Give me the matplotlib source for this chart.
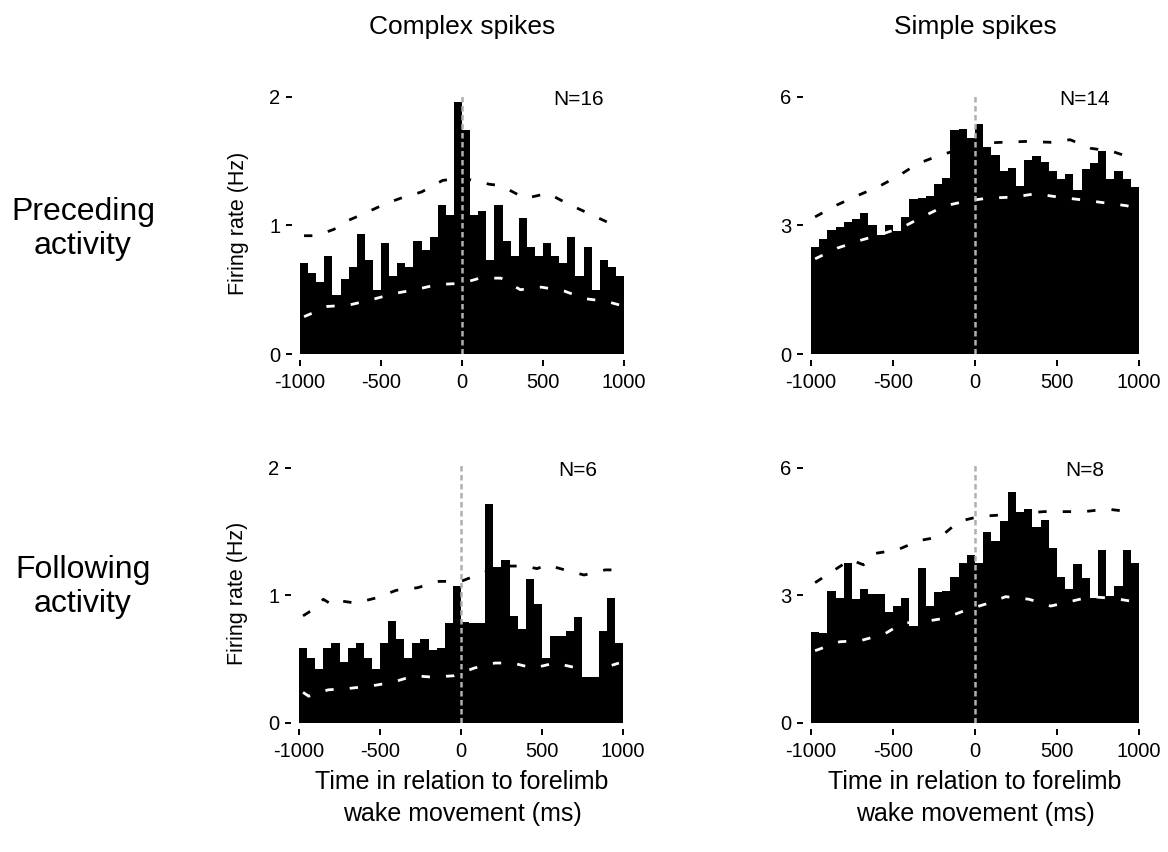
import numpy as np
import matplotlib
matplotlib.use("Agg")
from matplotlib import pyplot as plt

plt.rcParams['font.family'] = ['Liberation Sans', 'DejaVu Sans']
plt.rcParams['axes.unicode_minus'] = False

# bin edges: 40 bins of 50 ms from -1000 to 1000
bin_left = np.arange(-1000, 1000, 50)

# complex spikes, preceding activity (N=16)
cs_pre = [0.71, 0.63, 0.56, 0.76, 0.46, 0.58, 0.68, 0.93, 0.73, 0.50,
          0.86, 0.61, 0.71, 0.68, 0.88, 0.81, 0.91, 1.16, 1.08, 1.96,
          1.74, 1.08, 1.11, 0.73, 1.16, 0.88, 0.76, 1.06, 0.83, 0.76,
          0.86, 0.76, 0.71, 0.91, 0.61, 0.83, 0.50, 0.73, 0.68, 0.61]
cs_pre_hi_t = [-975, -900, -790, -700, -590, -470, -360, -250, -120, 0, 170, 240, 390, 530, 650, 770, 890, 975]
cs_pre_hi = [0.92, 0.92, 0.97, 1.04, 1.10, 1.17, 1.22, 1.26, 1.35, 1.37, 1.32, 1.31, 1.21, 1.25, 1.17, 1.10, 1.03, 0.98]
cs_pre_lo_t = [-975, -830, -700, -565, -420, -290, -150, 0, 110, 240, 360, 490, 630, 760, 890, 975]
cs_pre_lo = [0.29, 0.37, 0.38, 0.42, 0.47, 0.50, 0.54, 0.55, 0.59, 0.59, 0.50, 0.52, 0.49, 0.43, 0.41, 0.38]

# simple spikes, preceding activity (N=14)
ss_pre = [2.49, 2.69, 2.90, 2.96, 3.08, 3.15, 3.30, 3.00, 2.78, 3.00,
          2.86, 3.19, 3.61, 3.65, 3.68, 3.96, 4.10, 5.23, 5.25, 5.04,
          5.37, 4.84, 4.65, 4.28, 4.34, 3.93, 4.52, 4.63, 4.47, 4.26,
          4.08, 4.21, 3.83, 4.32, 4.46, 4.74, 4.08, 4.26, 4.08, 3.89]
ss_pre_hi_t = [-975, -840, -720, -585, -465, -350, -220, -90, 30, 170, 310, 460, 580, 705, 835, 975]
ss_pre_hi = [3.20, 3.48, 3.69, 3.91, 4.16, 4.44, 4.63, 4.78, 4.92, 4.94, 4.96, 4.94, 5.00, 4.80, 4.73, 4.55]
ss_pre_lo_t = [-975, -840, -700, -565, -435, -310, -180, -50, 85, 235, 370, 510, 645, 785, 925, 975]
ss_pre_lo = [2.22, 2.47, 2.65, 2.80, 2.97, 3.22, 3.46, 3.57, 3.64, 3.66, 3.74, 3.66, 3.60, 3.53, 3.46, 3.40]

# complex spikes, following activity (N=6)
cs_fol = [0.59, 0.51, 0.42, 0.59, 0.63, 0.48, 0.59, 0.63, 0.51, 0.42,
          0.63, 0.80, 0.66, 0.51, 0.63, 0.66, 0.57, 0.59, 0.78, 1.07,
          0.79, 0.78, 0.78, 1.72, 1.22, 1.28, 0.84, 0.74, 1.13, 0.93,
          0.51, 0.68, 0.68, 0.72, 0.83, 0.36, 0.36, 0.72, 0.98, 0.63]
cs_fol_hi_t = [-975, -900, -850, -800, -760, -650, -525, -400, -270, -135, 0, 120, 250, 390, 470, 530, 640, 760, 890, 975]
cs_fol_hi = [0.84, 0.90, 0.97, 0.93, 0.96, 0.94, 0.98, 1.04, 1.06, 1.11, 1.11, 1.17, 1.23, 1.23, 1.21, 1.24, 1.20, 1.16, 1.20, 1.20]
cs_fol_lo_t = [-975, -940, -820, -700, -555, -420, -290, -180, -45, 80, 210, 320, 445, 580, 720, 800, 850, 975]
cs_fol_lo = [0.24, 0.21, 0.26, 0.27, 0.29, 0.32, 0.37, 0.36, 0.37, 0.43, 0.47, 0.47, 0.43, 0.47, 0.43, 0.40, 0.42, 0.47]

# simple spikes, following activity (N=8)
ss_fol = [2.15, 2.11, 3.11, 2.95, 3.77, 2.91, 3.15, 3.03, 3.03, 2.60,
          2.74, 2.93, 2.28, 3.65, 2.74, 3.07, 3.11, 3.44, 3.77, 3.95,
          3.77, 4.49, 4.29, 4.76, 5.44, 4.97, 5.04, 4.62, 4.78, 4.11,
          3.44, 3.15, 3.73, 3.41, 2.93, 4.07, 2.99, 3.22, 4.07, 3.77]
ss_fol_hi_t = [-975, -840, -760, -680, -606, -474, -341, -209, -98, 30, 157, 420, 545, 665, 805, 940, 975]
ss_fol_hi = [3.30, 3.64, 3.84, 3.72, 3.99, 4.07, 4.29, 4.38, 4.74, 4.86, 4.89, 4.97, 4.97, 4.97, 5.03, 4.97, 4.97]
ss_fol_lo_t = [-975, -825, -695, -553, -441, -319, -187, -65, 67, 187, 329, 462, 563, 705, 848, 975]
ss_fol_lo = [1.70, 1.91, 1.94, 2.09, 2.35, 2.38, 2.46, 2.64, 2.80, 2.97, 2.91, 2.75, 2.84, 2.97, 2.93, 2.85]

W, H = 1168, 852
fig = plt.figure(figsize=(W / 100, H / 100), dpi=100)


def panel(rect, vals, hi_t, hi, lo_t, lo, yticks, ytop, nlab, nx):
    ax = fig.add_axes([rect[0] / W, 1 - rect[1] / H, rect[2] / W, rect[3] / H])
    ax.bar(bin_left, vals, width=50, align='edge', color='black', linewidth=0, zorder=1)
    ax.plot(hi_t, hi, color='black', lw=2, ls=(0, (3.0, 5.8)), zorder=2)
    ax.plot(lo_t, lo, color='white', lw=2, ls=(0, (3.0, 5.8)), zorder=2)
    ax.axvline(0, color='#b0b0b0', lw=1.8, ls=(0, (2.2, 1.4)), zorder=3)
    ax.set_xlim(-1000, 1000)
    ax.set_ylim(0, ytop)
    ax.set_xticks([-1000, -500, 0, 500, 1000])
    ax.set_yticks(yticks)
    for s in ['top', 'right']:
        ax.spines[s].set_visible(False)
    ax.spines['left'].set_position(('outward', 6))
    ax.spines['bottom'].set_position(('outward', 4))
    ax.spines['left'].set_color('none')
    ax.spines['bottom'].set_color('none')
    ax.tick_params(axis='both', direction='out', length=4, width=1.4, color='black', labelsize=14.5)
    ax.tick_params(axis='x', pad=6)
    ax.tick_params(axis='y', pad=4)
    ax.patch.set_alpha(0)
    ax.text(nx, 0.975, nlab, transform=ax.transAxes, ha='center', va='center', fontsize=15)
    return ax


ax1 = panel((300, 354, 324, 261), cs_pre, cs_pre_hi_t, cs_pre_hi, cs_pre_lo_t, cs_pre_lo,
            [0, 1, 2], 2.03, "N=16", 0.86)
ax2 = panel((811, 354, 328, 261), ss_pre, ss_pre_hi_t, ss_pre_hi, ss_pre_lo_t, ss_pre_lo,
            [0, 3, 6], 6.09, "N=14", 0.835)
ax3 = panel((299, 723, 324, 259), cs_fol, cs_fol_hi_t, cs_fol_hi, cs_fol_lo_t, cs_fol_lo,
            [0, 1, 2], 2.03, "N=6", 0.86)
ax4 = panel((811, 723, 328, 259), ss_fol, ss_fol_hi_t, ss_fol_hi, ss_fol_lo_t, ss_fol_lo,
            [0, 3, 6], 6.09, "N=8", 0.835)

ax1.set_ylabel("Firing rate (Hz)", fontsize=15.5, labelpad=15)
ax3.set_ylabel("Firing rate (Hz)", fontsize=15.5, labelpad=15)

fig.text(462 / W, 1 - 27 / H, "Complex spikes", ha='center', va='center', fontsize=19)
fig.text(975 / W, 1 - 27 / H, "Simple spikes", ha='center', va='center', fontsize=19)

fig.text(83 / W, 1 - 229 / H, "Preceding\nactivity", ha='center', va='center', fontsize=23, linespacing=1.15)
fig.text(83 / W, 1 - 587 / H, "Following\nactivity", ha='center', va='center', fontsize=23, linespacing=1.15)

xlab = "Time in relation to forelimb\nwake movement (ms)"
fig.text(462 / W, 1 - 798 / H, xlab, ha='center', va='center', fontsize=18, linespacing=1.4)
fig.text(975 / W, 1 - 798 / H, xlab, ha='center', va='center', fontsize=18, linespacing=1.4)

fig.savefig("out.png", dpi=100)
